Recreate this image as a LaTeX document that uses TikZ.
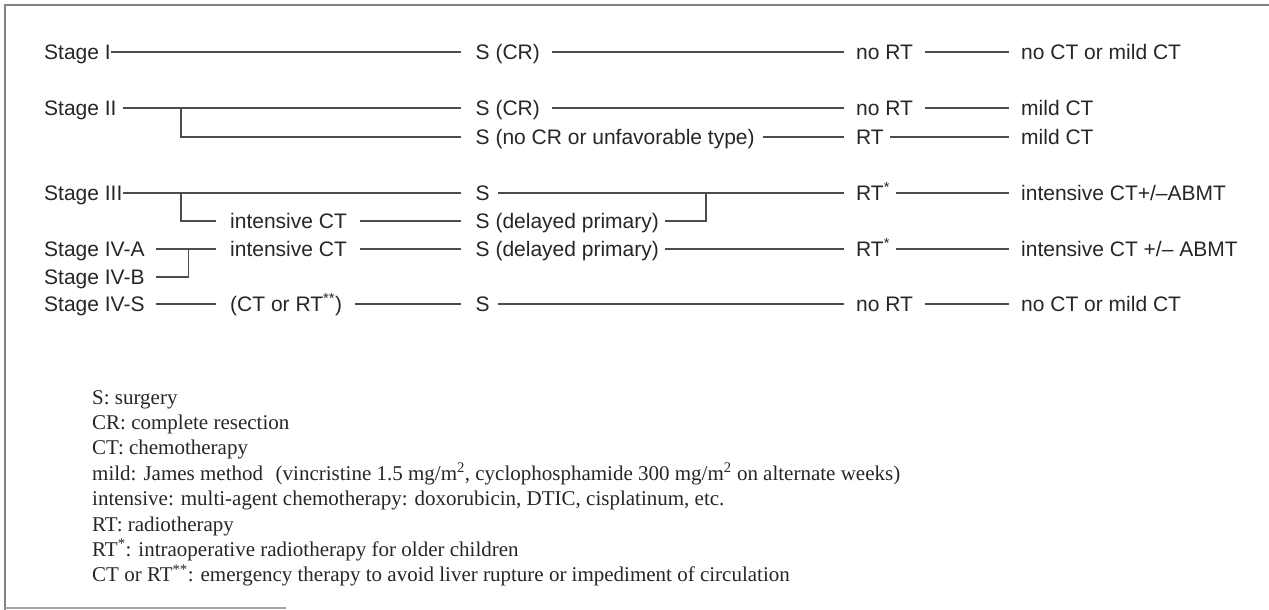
\documentclass[tikz,border=0pt]{standalone}
\usepackage{fontspec}
\setmainfont{Liberation Serif}
\setsansfont{Liberation Sans}
\usepackage{tikz}
\usetikzlibrary{calc}
% columns
\newcommand*{\xSt }{44}
\newcommand*{\xCT }{230}
\newcommand*{\xS  }{475.5}
\newcommand*{\xRT }{856}
\newcommand*{\xOut}{1021}
\newcommand*{\xKey}{92}
\newcommand*{\xJ  }{181}
\newcommand*{\xJb }{188.5}
\newcommand*{\xJc }{706}
% rows
\newcommand*{\yI   }{52}
\newcommand*{\yII  }{108}
\newcommand*{\yIIb }{137}
\newcommand*{\yIII }{193}
\newcommand*{\yIIIb}{221}
\newcommand*{\yIVa }{249}
\newcommand*{\yIVb }{277}
\newcommand*{\yIVs }{304}

\begin{document}
\begin{tikzpicture}[x=1pt, y=-1pt, font=\sffamily\fontsize{21}{25}\selectfont, text=black!85,
    stage/.style={anchor=west, inner sep=0pt, text height=15pt, text depth=0pt},
    link/.style={draw=black!70, line width=1.3pt},
    frame/.style={draw=black!50, line width=1.4pt},
    key/.style={anchor=base west, inner sep=0pt, font=\rmfamily\fontsize{21}{25}\selectfont}]
    \useasboundingbox (0,0) rectangle (1269,610);
    \draw [frame] (1269,5) -- (5,5) -- (5,610);
    \draw [frame, draw=black!35] (5,608) -- (286,608);

    % Stage I
    \node [stage] (stI) at (\xSt,\yI) {Stage I};
    \node [stage] (sI)  at (\xS,\yI)   {S (CR)};
    \node [stage] (rI)  at (\xRT,\yI)  {no RT};
    \node [stage] (cI)  at (\xOut,\yI) {no CT or mild CT};
    \draw [link] (stI.east) -- ([xshift=-14.5pt]sI.west);
    \draw [link] ([xshift=12pt]sI.east) -- ([xshift=-12pt]rI.west);
    \draw [link] ([xshift=12pt]rI.east) -- ([xshift=-12pt]cI.west);

    % Stage II
    \node [stage] (stII) at (\xSt,\yII)  {Stage II};
    \node [stage] (sIIa) at (\xS,\yII)   {S (CR)};
    \node [stage] (rIIa) at (\xRT,\yII)  {no RT};
    \node [stage] (cIIa) at (\xOut,\yII) {mild CT};
    \node [stage] (sIIb) at (\xS,\yIIb)   {S (no CR or unfavorable type)};
    \node [stage] (rIIb) at (\xRT,\yIIb)  {RT};
    \node [stage] (cIIb) at (\xOut,\yIIb) {mild CT};
    \coordinate (jII) at (\xJ,\yII);
    \draw [link] ([xshift=6pt]stII.east) -- ([xshift=-14.5pt]sIIa.west);
    \draw [link] ([xshift=12pt]sIIa.east) -- ([xshift=-12pt]rIIa.west);
    \draw [link] ([xshift=12pt]rIIa.east) -- ([xshift=-12pt]cIIa.west);
    \draw [link] (jII) |- ([xshift=-14.5pt]sIIb.west);
    \draw [link] ([xshift=8pt]sIIb.east) -- ([xshift=-12pt]rIIb.west);
    \draw [link] ([xshift=6pt]rIIb.east) -- ([xshift=-12pt]cIIb.west);

    % Stage III
    \node [stage] (stIII) at (\xSt,\yIII)  {Stage III};
    \node [stage] (sIII)  at (\xS,\yIII)   {S};
    \node [stage] (rIII)  at (\xRT,\yIII)  {RT\textsuperscript{*}};
    \node [stage] (cIII)  at (\xOut,\yIII) {intensive CT+/--ABMT};
    \node [stage] (ctIII) at (\xCT,\yIIIb) {intensive CT};
    \node [stage] (dIII)  at (\xS,\yIIIb)  {S (delayed primary)};
    \coordinate (jIII)  at (\xJ,\yIII);
    \coordinate (jIIIr) at (\xJc,\yIII);
    \draw [link] (stIII.east) -- ([xshift=-14.5pt]sIII.west);
    \draw [link] ([xshift=8pt]sIII.east) -- ([xshift=-12pt]rIII.west);
    \draw [link] ([xshift=6pt]rIII.east) -- ([xshift=-12pt]cIII.west);
    \draw [link] (jIII) |- ([xshift=-14pt]ctIII.west);
    \draw [link] ([xshift=13pt]ctIII.east) -- ([xshift=-14.5pt]dIII.west);
    \draw [link] ([xshift=6pt]dIII.east) -| (jIIIr);

    % Stage IV-A / IV-B
    \node [stage] (stIVa) at (\xSt,\yIVa)  {Stage IV-A};
    \node [stage] (stIVb) at (\xSt,\yIVb)  {Stage IV-B};
    \node [stage] (ctIV)  at (\xCT,\yIVa)  {intensive CT};
    \node [stage] (dIV)   at (\xS,\yIVa)   {S (delayed primary)};
    \node [stage] (rIV)   at (\xRT,\yIVa)  {RT\textsuperscript{*}};
    \node [stage] (cIV)   at (\xOut,\yIVa) {intensive CT +/-- ABMT};
    \coordinate (jIV) at (\xJb,\yIVa);
    \draw [link] ([xshift=11pt]stIVa.east) -- ([xshift=-14pt]ctIV.west);
    \draw [link] ([xshift=11pt]stIVb.east) -| (jIV);
    \draw [link] ([xshift=13pt]ctIV.east) -- ([xshift=-14.5pt]dIV.west);
    \draw [link] ([xshift=6pt]dIV.east) -- ([xshift=-12pt]rIV.west);
    \draw [link] ([xshift=6pt]rIV.east) -- ([xshift=-12pt]cIV.west);

    % Stage IV-S
    \node [stage] (stIVs) at (\xSt,\yIVs)  {Stage IV-S};
    \node [stage] (eIVs)  at (\xCT,\yIVs)  {(CT or RT\textsuperscript{**})};
    \node [stage] (sIVs)  at (\xS,\yIVs)   {S};
    \node [stage] (rIVs)  at (\xRT,\yIVs)  {no RT};
    \node [stage] (cIVs)  at (\xOut,\yIVs) {no CT or mild CT};
    \draw [link] ([xshift=11pt]stIVs.east) -- ([xshift=-14pt]eIVs.west);
    \draw [link] ([xshift=13pt]eIVs.east) -- ([xshift=-14.5pt]sIVs.west);
    \draw [link] ([xshift=8pt]sIVs.east) -- ([xshift=-12pt]rIVs.west);
    \draw [link] ([xshift=12pt]rIVs.east) -- ([xshift=-12pt]cIVs.west);

    % key
    \node [key] (keyS)    at (\xKey,404)   {S: surgery};
    \node [key] (keyCR)   at (\xKey,429.4) {CR: complete resection};
    \node [key] (keyCT)   at (\xKey,454.8) {CT: chemotherapy};
    \node [key] (keyMild) at (\xKey,480.2) {mild: James method\hspace{0.6em}(vincristine 1.5 mg/m\textsuperscript{2}, cyclophosphamide 300 mg/m\textsuperscript{2} on alternate weeks)};
    \node [key] (keyInt)  at (\xKey,505.6) {intensive: multi-agent chemotherapy: doxorubicin, DTIC, cisplatinum, etc.};
    \node [key] (keyRT)   at (\xKey,531)   {RT: radiotherapy};
    \node [key] (keyRTs)  at (\xKey,556.4) {RT\textsuperscript{*}: intraoperative radiotherapy for older children};
    \node [key] (keyCTRT) at (\xKey,581.8) {CT or RT\textsuperscript{**}: emergency therapy to avoid liver rupture or impediment of circulation};
\end{tikzpicture}
\end{document}
